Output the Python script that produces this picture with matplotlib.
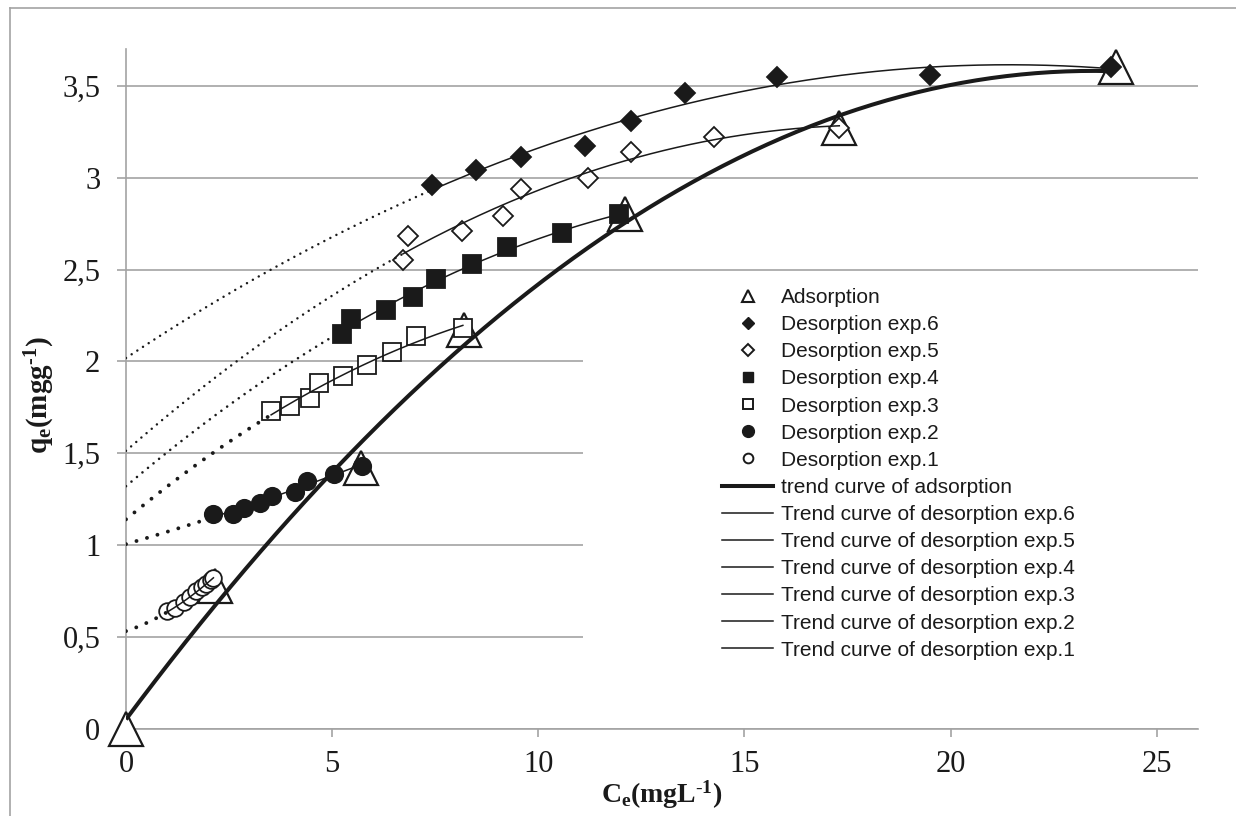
import numpy as np
import matplotlib
matplotlib.use('Agg')
import matplotlib.pyplot as plt
from matplotlib.lines import Line2D
from matplotlib.patches import Rectangle

# data
ads_x = [0.0, 2.15, 5.7, 8.2, 12.1, 17.3, 24.0]
ads_y = [0.0, 0.78, 1.42, 2.17, 2.80, 3.27, 3.60]

exp6_x = [7.42, 8.49, 9.58, 11.13, 12.25, 13.55, 15.8, 19.5, 23.9]
exp6_y = [2.96, 3.04, 3.11, 3.17, 3.31, 3.46, 3.55, 3.56, 3.60]

exp5_x = [6.72, 6.84, 8.15, 9.14, 9.58, 11.2, 12.25, 14.25, 17.3]
exp5_y = [2.55, 2.68, 2.71, 2.79, 2.94, 3.00, 3.14, 3.22, 3.27]

exp4_x = [5.24, 5.46, 6.30, 6.96, 7.52, 8.39, 9.24, 10.57, 11.95]
exp4_y = [2.15, 2.23, 2.28, 2.35, 2.45, 2.53, 2.62, 2.70, 2.80]

exp3_x = [3.52, 3.98, 4.46, 4.68, 5.26, 5.84, 6.45, 7.03, 8.17]
exp3_y = [1.73, 1.76, 1.80, 1.88, 1.92, 1.98, 2.05, 2.14, 2.18]

exp2_x = [2.11, 2.59, 2.86, 3.25, 3.54, 4.10, 4.39, 5.04, 5.72]
exp2_y = [1.17, 1.17, 1.20, 1.23, 1.27, 1.29, 1.35, 1.39, 1.43]

exp1_x = [1.0, 1.2, 1.4, 1.55, 1.7, 1.85, 1.95, 2.05, 2.12]
exp1_y = [0.64, 0.66, 0.69, 0.72, 0.75, 0.77, 0.79, 0.81, 0.82]

x_ticks = [0, 5, 10, 15, 20, 25]
y_ticks = [0, 0.5, 1, 1.5, 2, 2.5, 3, 3.5]
y_tick_labels = ['0', '0,5', '1', '1,5', '2', '2,5', '3', '3,5']

GRID = '#a3a3a3'
INK = '#1a1a1a'

plt.rcParams['mathtext.fontset'] = 'custom'
plt.rcParams['mathtext.rm'] = 'Liberation Serif'
plt.rcParams['mathtext.it'] = 'Liberation Serif:italic'
plt.rcParams['mathtext.bf'] = 'Liberation Serif:bold'

fig = plt.figure(figsize=(12.36, 8.16), dpi=100)
ax = fig.add_axes([126 / 1236, 87 / 816, 1072 / 1236, 680 / 816])
ax.set_xlim(0, 26)
ax.set_ylim(0, 3.7)

ax.set_axisbelow(True)
ax.yaxis.grid(True, color=GRID, lw=1.2)
for side in ['top', 'right']:
    ax.spines[side].set_visible(False)
for side in ['left', 'bottom']:
    ax.spines[side].set_color(GRID)
    ax.spines[side].set_linewidth(1.2)

ax.set_xticks(x_ticks)
ax.set_xticklabels([str(t) for t in x_ticks])
ax.set_yticks(y_ticks)
ax.set_yticklabels(y_tick_labels)
ax.tick_params(axis='x', length=6, width=1.2, color=GRID, pad=9,
               labelsize=22, labelcolor=INK)
ax.tick_params(axis='y', length=6.5, width=1.2, color=GRID, pad=12,
               labelsize=22, labelcolor=INK)
for lab in ax.get_xticklabels() + ax.get_yticklabels():
    lab.set_fontfamily('Liberation Serif')

# white area behind the legend hides the gridlines there
ax.add_patch(Rectangle((0.426, 0.087), 0.6, 0.581, transform=ax.transAxes,
                       facecolor='white', edgecolor='none', zorder=1))

# adsorption
ax.plot(ads_x, ads_y, ls='none', marker='^', ms=24, mfc='white', mec=INK,
        mew=1.6, zorder=3, clip_on=False)
coef = np.polyfit(ads_x, ads_y, 2)
xs = np.linspace(0, max(ads_x), 200)
ax.plot(xs, np.polyval(coef, xs), color=INK, lw=2.9, zorder=6,
        solid_capstyle='butt')

desorption = [
    (exp6_x, exp6_y, 'D', True, 10.5, 1.8, 2.7),
    (exp5_x, exp5_y, 'D', False, 10.5, 1.8, 2.7),
    (exp4_x, exp4_y, 's', True, 12.5, 1.9, 2.7),
    (exp3_x, exp3_y, 's', False, 12.5, 2.8, 2.8),
    (exp2_x, exp2_y, 'o', True, 12.5, 2.8, 2.8),
    (exp1_x, exp1_y, 'o', False, 12, 2.8, 2.8),
]

for x, y, mk, filled, ms, dot_lw, dot_gap in desorption:
    ax.plot(x, y, ls='none', marker=mk, ms=ms,
            mfc=INK if filled else 'white', mec=INK, mew=1.3, zorder=4)
    coef = np.polyfit(x, y, 2)
    xs = np.linspace(min(x), max(x), 200)
    ax.plot(xs, np.polyval(coef, xs), color=INK, lw=1.1, zorder=5)
    xd = np.linspace(0, min(x), 200)
    ax.plot(xd, np.polyval(coef, xd), color=INK, lw=dot_lw,
            ls=(0, (0.01, dot_gap)), dash_capstyle='round', zorder=5)

# legend
handles = [
    Line2D([], [], ls='none', marker='^', ms=8, mfc='white', mec=INK, mew=1.5),
    Line2D([], [], ls='none', marker='D', ms=6, mfc=INK, mec=INK),
    Line2D([], [], ls='none', marker='D', ms=6, mfc='white', mec=INK, mew=1.4),
    Line2D([], [], ls='none', marker='s', ms=7.5, mfc=INK, mec=INK),
    Line2D([], [], ls='none', marker='s', ms=7.5, mfc='white', mec=INK, mew=1.4),
    Line2D([], [], ls='none', marker='o', ms=8.5, mfc=INK, mec=INK),
    Line2D([], [], ls='none', marker='o', ms=7, mfc='white', mec=INK, mew=1.4),
    Line2D([], [], color=INK, lw=2.9),
] + [Line2D([], [], color=INK, lw=1.1) for _ in range(6)]
labels = ['Adsorption'] + ['Desorption exp.%d' % k for k in range(6, 0, -1)] \
    + ['trend curve of adsorption'] \
    + ['Trend curve of desorption exp.%d' % k for k in range(6, 0, -1)]
ax.legend(handles, labels, loc='upper left',
          bbox_to_anchor=(722 / 1236, 1 - 288 / 816),
          bbox_transform=fig.transFigure, frameon=False, borderpad=0,
          borderaxespad=0, handlelength=2.45, handletextpad=0.4,
          labelspacing=0.39, prop={'family': 'Liberation Sans', 'size': 15},
          labelcolor=INK)

# axis titles
fig.text(40 / 1236, 1 - 395 / 816, r'$\mathbf{q_e(mgg^{\text{-}1})}$',
         rotation=90, ha='center', va='center', fontsize=21, color=INK)
fig.text(662 / 1236, 1 - 811 / 816, r'$\mathbf{C_e(mgL^{\text{-}1})}$',
         ha='center', va='bottom', fontsize=20, color=INK)

# outer frame
fig.add_artist(Line2D([10 / 1236, 10 / 1236], [0, 1 - 8 / 816],
                      transform=fig.transFigure, color=GRID, lw=1.2))
fig.add_artist(Line2D([10 / 1236, 1], [1 - 8 / 816, 1 - 8 / 816],
                      transform=fig.transFigure, color=GRID, lw=1.2))

fig.savefig('out.png', dpi=100)
